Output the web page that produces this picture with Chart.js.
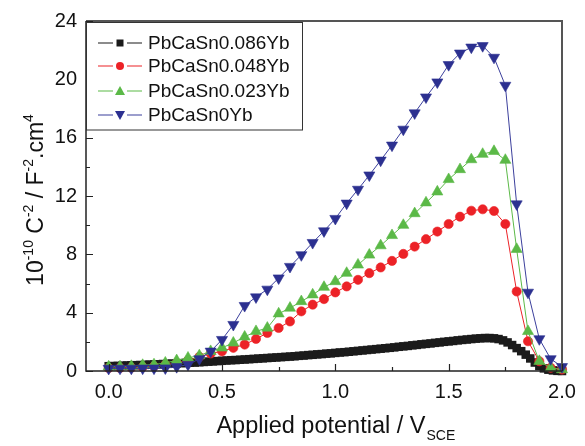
<!DOCTYPE html>
<html>
<head>
<meta charset="utf-8">
<title>Mott-Schottky plots</title>
<script src="https://cdn.jsdelivr.net/npm/chart.js@4.4.0/dist/chart.umd.min.js"></script>
<style>
  html, body { margin: 0; padding: 0; background: #fff; }
  #wrap { width: 585px; height: 446px; }
</style>
</head>
<body>
<div id="wrap"><canvas id="msChart" width="585" height="446"></canvas></div>
<script>
// potential (V vs SCE) for the marker series
const potential = [0.00, 0.05, 0.10, 0.15, 0.20, 0.25, 0.30, 0.35, 0.40, 0.45,
  0.50, 0.55, 0.60, 0.65, 0.70, 0.75, 0.80, 0.85, 0.90, 0.95,
  1.00, 1.05, 1.10, 1.15, 1.20, 1.25, 1.30, 1.35, 1.40, 1.45,
  1.50, 1.55, 1.60, 1.65, 1.70, 1.75, 1.80, 1.85, 1.90, 1.95, 2.00];

// the 0.086Yb alloy was sampled more densely
const potentialDense = [0.00, 0.02, 0.04, 0.06, 0.08, 0.10, 0.12, 0.14, 0.16, 0.18,
  0.20, 0.22, 0.24, 0.26, 0.28, 0.30, 0.32, 0.34, 0.36, 0.38,
  0.40, 0.42, 0.44, 0.46, 0.48, 0.50, 0.52, 0.54, 0.56, 0.58,
  0.60, 0.62, 0.64, 0.66, 0.68, 0.70, 0.72, 0.74, 0.76, 0.78,
  0.80, 0.82, 0.84, 0.86, 0.88, 0.90, 0.92, 0.94, 0.96, 0.98,
  1.00, 1.02, 1.04, 1.06, 1.08, 1.10, 1.12, 1.14, 1.16, 1.18,
  1.20, 1.22, 1.24, 1.26, 1.28, 1.30, 1.32, 1.34, 1.36, 1.38,
  1.40, 1.42, 1.44, 1.46, 1.48, 1.50, 1.52, 1.54, 1.56, 1.58,
  1.60, 1.62, 1.64, 1.66, 1.68, 1.70, 1.72, 1.74, 1.76, 1.78,
  1.80, 1.82, 1.84, 1.86, 1.88, 1.90, 1.92, 1.94, 1.96, 1.98, 2.00];

// 10^-10 C^-2 values
const yb0086 = [0.33, 0.34, 0.35, 0.36, 0.38, 0.39, 0.40, 0.41, 0.42, 0.44,
  0.45, 0.46, 0.48, 0.49, 0.51, 0.52, 0.54, 0.55, 0.57, 0.58,
  0.60, 0.62, 0.64, 0.66, 0.68, 0.70, 0.72, 0.74, 0.75, 0.77,
  0.79, 0.81, 0.83, 0.85, 0.87, 0.89, 0.91, 0.93, 0.95, 0.97,
  0.99, 1.01, 1.04, 1.06, 1.09, 1.11, 1.14, 1.16, 1.19, 1.21,
  1.24, 1.27, 1.29, 1.32, 1.35, 1.38, 1.41, 1.44, 1.47, 1.50,
  1.53, 1.56, 1.59, 1.62, 1.66, 1.69, 1.72, 1.76, 1.79, 1.83,
  1.86, 1.89, 1.93, 1.96, 2.00, 2.03, 2.06, 2.10, 2.13, 2.16,
  2.19, 2.22, 2.24, 2.26, 2.26, 2.24, 2.19, 2.10, 1.96, 1.78,
  1.57, 1.36, 1.12, 0.86, 0.58, 0.34, 0.18, 0.09, 0.04, 0.01, 0.00];

const yb0048 = [0.20, 0.21, 0.23, 0.27, 0.32, 0.42, 0.55, 0.72, 0.97, 1.20,
  1.35, 1.59, 1.81, 2.20, 2.61, 2.95, 3.40, 4.09, 4.55, 4.93,
  5.39, 5.80, 6.25, 6.71, 7.10, 7.55, 8.03, 8.53, 9.04, 9.56,
  10.08, 10.58, 10.99, 11.09, 10.97, 10.08, 5.45, 2.04, 0.67, 0.22, 0.10];

const yb0023 = [0.29, 0.30, 0.33, 0.40, 0.44, 0.56, 0.72, 0.90, 1.06, 1.35,
  1.59, 1.93, 2.34, 2.72, 2.95, 3.93, 4.32, 4.77, 5.23, 5.75,
  6.14, 6.71, 7.28, 7.96, 8.60, 9.30, 10.00, 10.80, 11.54, 12.29,
  13.14, 13.82, 14.50, 14.87, 15.07, 14.46, 8.35, 2.72, 0.67, 0.22, 0.10];

const yb0 = [0.17, 0.18, 0.18, 0.19, 0.19, 0.20, 0.29, 0.44, 0.83, 1.35,
  2.15, 3.18, 4.48, 5.07, 5.60, 6.37, 7.16, 7.96, 8.80, 9.60,
  10.45, 11.50, 12.45, 13.43, 14.45, 15.48, 16.57, 17.69, 18.78, 19.81,
  21.00, 21.79, 22.20, 22.30, 21.50, 19.58, 11.45, 5.39, 2.20, 0.83, 0.29];

const seriesNames = ['PbCaSn0.086Yb', 'PbCaSn0.048Yb', 'PbCaSn0.023Yb', 'PbCaSn0Yb'];
const xTicks = [0, 0.5, 1.0, 1.5, 2.0];
const yTicks = [0, 4, 8, 12, 16, 20, 24];

const FONT = 'Liberation Sans, Arial, Helvetica, sans-serif';
const colors = ['#1b1b1b', '#ec2227', '#5bb947', '#2c3090'];
const lineColors = ['#1b1b1b', '#ec2227', '#5bb947', '#3b3f9c'];

function pairs(xs, ys) {
  return xs.map((x, i) => ({ x: x, y: ys[i] }));
}

const styles = [
  { pointStyle: 'rect', radius: 6, rotation: 0, border: 0, order: 4 },
  { pointStyle: 'circle', radius: 4.6, rotation: 0, border: 0.6, order: 3 },
  { pointStyle: 'triangle', radius: 6.4, rotation: 0, border: 0.6, order: 2 },
  { pointStyle: 'triangle', radius: 6.4, rotation: 180, border: 0.6, order: 1 }
];
const seriesData = [pairs(potentialDense, yb0086), pairs(potential, yb0048),
  pairs(potential, yb0023), pairs(potential, yb0)];

const datasets = seriesNames.map((name, i) => ({
  label: name,
  data: seriesData[i],
  order: styles[i].order,
  borderColor: lineColors[i],
  borderWidth: 1,
  backgroundColor: colors[i],
  pointStyle: styles[i].pointStyle,
  pointRadius: styles[i].radius,
  pointRotation: styles[i].rotation,
  pointBackgroundColor: colors[i],
  pointBorderColor: colors[i],
  pointBorderWidth: styles[i].border,
  tension: 0,
  clip: 8
}));

// frame, inward ticks, axis titles with sub/superscripts and the legend
const decorations = {
  id: 'decorations',
  afterDatasetsDraw(chart) {
    const ctx = chart.ctx;
    const a = chart.chartArea;
    const xs = chart.scales.x, ys = chart.scales.y;
    ctx.save();

    // top and right border
    ctx.strokeStyle = '#555';
    ctx.lineWidth = 2;
    ctx.beginPath();
    ctx.moveTo(a.left, a.top); ctx.lineTo(a.right, a.top); ctx.lineTo(a.right, a.bottom);
    ctx.stroke();

    // left and bottom axes
    ctx.strokeStyle = '#222';
    ctx.lineWidth = 1.5;
    ctx.beginPath();
    ctx.moveTo(a.left, a.top); ctx.lineTo(a.left, a.bottom); ctx.lineTo(a.right, a.bottom);
    ctx.stroke();

    ctx.lineWidth = 1.2;
    ctx.beginPath();
    for (let v = 0; v <= 24; v += 2) {
      const py = Math.round(ys.getPixelForValue(v)) + 0.5;
      const len = v % 4 === 0 ? 7 : 4;
      ctx.moveTo(a.left, py); ctx.lineTo(a.left + len, py);
    }
    for (let v = 0; v <= 2.0001; v += 0.25) {
      const px = Math.round(xs.getPixelForValue(v)) + 0.5;
      const len = Math.abs(v * 2 - Math.round(v * 2)) < 1e-6 ? 7 : 4;
      ctx.moveTo(px, a.bottom); ctx.lineTo(px, a.bottom - len);
    }
    ctx.stroke();

    // x title
    ctx.fillStyle = '#111';
    ctx.textBaseline = 'alphabetic';
    ctx.textAlign = 'left';
    const mainX = '23.5px ' + FONT, subX = '14px ' + FONT;
    ctx.font = mainX;
    const w1 = ctx.measureText('Applied potential / V').width;
    ctx.font = subX;
    const w2 = ctx.measureText('SCE').width;
    let tx = xs.getPixelForValue(1.0) - (w1 + w2) / 2;
    const tyBase = 433;
    ctx.font = mainX;
    ctx.fillText('Applied potential / V', tx, tyBase);
    ctx.font = subX;
    ctx.fillText('SCE', tx + w1 + 1, tyBase + 7);

    // y title, rotated
    const parts = [['10', 0], ['-10', 1], [' C', 0], ['-2', 1], [' / F', 0], ['-2', 1], ['.cm', 0], ['4', 1]];
    const mainY = '23px ' + FONT, supY = '14px ' + FONT;
    let total = 0;
    parts.forEach(p => { ctx.font = p[1] ? supY : mainY; total += ctx.measureText(p[0]).width; });
    ctx.translate(43, (a.top + a.bottom) / 2 + 4);
    ctx.rotate(-Math.PI / 2);
    let cx = -total / 2;
    parts.forEach(p => {
      ctx.font = p[1] ? supY : mainY;
      ctx.fillText(p[0], cx, p[1] ? -10 : 0);
      cx += ctx.measureText(p[0]).width;
    });
    ctx.setTransform(1, 0, 0, 1, 0, 0);

    // legend
    ctx.fillStyle = '#fff';
    ctx.fillRect(a.left + 0.5, 22, 216, 108);
    ctx.strokeStyle = '#333';
    ctx.lineWidth = 1;
    ctx.strokeRect(a.left + 0.5, 22.5, 216, 107.5);
    const rowY = [43, 66, 91, 115];
    seriesNames.forEach((name, i) => {
      const y = rowY[i];
      ctx.strokeStyle = lineColors[i];
      ctx.lineWidth = 1.2;
      ctx.beginPath();
      ctx.moveTo(98, y); ctx.lineTo(113, y);
      ctx.moveTo(127, y); ctx.lineTo(142, y);
      ctx.stroke();
      ctx.fillStyle = colors[i];
      ctx.beginPath();
      if (i === 0) {
        ctx.rect(116.5, y - 3.5, 7, 7);
      } else if (i === 1) {
        ctx.arc(120, y, 4, 0, Math.PI * 2);
      } else if (i === 2) {
        ctx.moveTo(120, y - 5); ctx.lineTo(125, y + 4); ctx.lineTo(115, y + 4); ctx.closePath();
      } else {
        ctx.moveTo(120, y + 5); ctx.lineTo(125, y - 4); ctx.lineTo(115, y - 4); ctx.closePath();
      }
      ctx.fill();
      ctx.fillStyle = '#111';
      ctx.font = '19px ' + FONT;
      ctx.textBaseline = 'middle';
      ctx.fillText(name, 148, y + 1);
    });
    ctx.restore();
  }
};

const msChart = new Chart(document.getElementById('msChart').getContext('2d'), {
  type: 'line',
  data: { datasets: datasets },
  options: {
    responsive: false,
    animation: false,
    devicePixelRatio: 1,
    layout: { padding: { top: 19, right: 23, left: 0, bottom: 0 } },
    plugins: { legend: { display: false }, tooltip: { enabled: false } },
    scales: {
      x: {
        type: 'linear',
        min: -0.1,
        max: 2.0,
        grid: { display: false, drawTicks: false },
        border: { display: false },
        afterBuildTicks: s => { s.ticks = xTicks.map(v => ({ value: v })); },
        afterFit: s => { s.height = 75; },
        ticks: {
          padding: 9,
          color: '#111',
          font: { family: FONT, size: 20 },
          callback: v => v.toFixed(1),
          maxRotation: 0
        }
      },
      y: {
        min: 0,
        max: 24,
        grid: { display: false, drawTicks: false },
        border: { display: false },
        afterBuildTicks: s => { s.ticks = yTicks.map(v => ({ value: v })); },
        afterFit: s => { s.width = 86; },
        ticks: {
          padding: 9,
          color: '#111',
          font: { family: FONT, size: 20 }
        }
      }
    }
  },
  plugins: [decorations]
});
</script>
</body>
</html>
